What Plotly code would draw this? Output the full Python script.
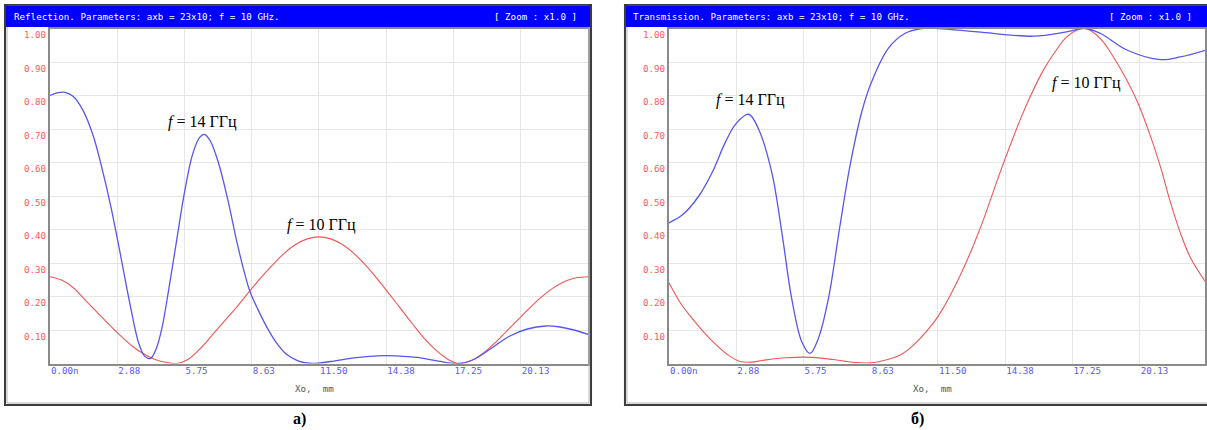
import plotly.graph_objects as go

# ---------------- data ----------------
x_ticks = [0, 2.875, 5.75, 8.625, 11.5, 14.375, 17.25, 20.125]
x_tick_labels = ["0.00n", "2.88", "5.75", "8.63", "11.50", "14.38", "17.25", "20.13"]
y_ticks = [0.1, 0.2, 0.3, 0.4, 0.5, 0.6, 0.7, 0.8, 0.9, 1.0]
y_tick_labels = ["0.10", "0.20", "0.30", "0.40", "0.50", "0.60", "0.70", "0.80", "0.90", "1.00"]

# Reflection, f = 14 GHz (blue)
refl14_x = [0, 0.3, 0.6, 1.0, 1.42, 1.85, 2.2, 2.6, 3.0, 3.4, 3.8, 4.05, 4.3, 4.55, 4.8, 5.1,
            5.4, 5.75, 6.1, 6.4, 6.6, 6.85, 7.2, 7.6, 8.0, 8.3, 8.55, 8.9, 9.3, 9.7, 10.1, 10.6,
            11.2, 12.0, 13.0, 14.0, 14.8, 15.7, 16.6, 17.5, 18.2, 18.9, 19.6, 20.4, 21.2, 21.8,
            22.4, 23.0]
refl14_y = [0.80, 0.808, 0.81, 0.797, 0.755, 0.68, 0.59, 0.47, 0.33, 0.185, 0.06, 0.022, 0.015, 0.045,
            0.11, 0.23, 0.36, 0.51, 0.625, 0.675, 0.684, 0.665, 0.60, 0.49, 0.36, 0.275, 0.215, 0.16,
            0.105, 0.06, 0.028, 0.008, 0.0, 0.006, 0.017, 0.023, 0.023, 0.018, 0.007, 0.0, 0.015,
            0.047, 0.08, 0.103, 0.112, 0.109, 0.10, 0.087]

# Reflection, f = 10 GHz (red)
refl10_x = [0, 0.5, 1.0, 1.5, 2.0, 2.5, 3.0, 3.5, 4.0, 4.5, 5.0, 5.4, 5.9, 6.5, 7.0, 7.5, 8.0,
            8.5, 9.0, 9.5, 10.0, 10.5, 11.0, 11.5, 12.0, 12.5, 13.0, 13.5, 14.0, 14.5, 15.0, 15.5,
            16.0, 16.5, 17.0, 17.5, 18.0, 18.5, 19.0, 19.5, 20.0, 20.5, 21.0, 21.5, 22.0, 22.5, 23.0]
refl10_y = [0.259, 0.249, 0.226, 0.19, 0.154, 0.118, 0.084, 0.053, 0.029, 0.012, 0.003, 0.0, 0.012,
            0.05, 0.09, 0.13, 0.17, 0.213, 0.255, 0.293, 0.328, 0.355, 0.372, 0.378, 0.372, 0.355,
            0.328, 0.293, 0.252, 0.208, 0.163, 0.118, 0.075, 0.04, 0.013, 0.0, 0.008, 0.03, 0.06,
            0.095, 0.13, 0.165, 0.198, 0.225, 0.245, 0.256, 0.259]

# Transmission, f = 14 GHz (blue)
trans14_x = [0, 0.57, 1.28, 1.85, 2.41, 2.87, 3.41, 3.83, 4.4, 4.83, 5.25, 5.68, 6.03, 6.39, 6.82,
             7.31, 7.74, 8.24, 8.66, 9.37, 10.08, 10.8, 11.5, 13.2, 15.6, 17.0, 17.8, 18.45, 19.6,
             21.0, 21.86, 22.92]
trans14_y = [0.42, 0.443, 0.50, 0.57, 0.66, 0.716, 0.744, 0.70, 0.57, 0.39, 0.194, 0.065, 0.03, 0.075, 0.194,
             0.41, 0.59, 0.75, 0.84, 0.94, 0.985, 1.0, 1.0, 0.99, 0.977, 0.99, 1.0, 0.985, 0.935,
             0.907, 0.915, 0.935]

# Transmission, f = 10 GHz (red)
trans10_x = [0, 0.5, 1.0, 1.5, 2.0, 2.5, 3.0, 3.5, 4.0, 4.5, 5.0, 5.75, 6.5, 7.0, 7.5, 8.0, 8.6,
             9.0, 9.5, 10.0, 10.5, 11.0, 11.5, 12.0, 12.5, 13.0, 13.5, 14.0, 14.5, 15.0, 15.5, 16.0,
             16.5, 17.0, 17.5, 17.75, 18.0, 18.5, 19.0, 19.5, 20.0, 20.5, 21.0, 21.4, 21.86, 22.3, 22.92]
trans10_y = [0.242, 0.18, 0.134, 0.093, 0.057, 0.027, 0.007, 0.004, 0.009, 0.014, 0.017, 0.019,
             0.016, 0.012, 0.007, 0.003, 0.002, 0.006, 0.015, 0.03, 0.058, 0.095, 0.14, 0.20, 0.27,
             0.35, 0.44, 0.54, 0.635, 0.725, 0.805, 0.875, 0.93, 0.975, 0.997, 1.0, 0.995, 0.965,
             0.915, 0.855, 0.785, 0.695, 0.59, 0.49, 0.39, 0.315, 0.245]

# ---------------- layout helpers ----------------
W, H = 1207, 430
def px(x):
    return x / W
def py(y):
    return 1 - y / H

BLUE = "rgb(86,86,240)"
RED = "rgb(240,86,86)"
GRID = "#e6e6e6"
AXLINE = "#8a8a8a"
SMALL = "DejaVu Sans Mono"

fig = go.Figure()
for xs, ys, col, w, xa, ya in [
    (refl10_x, refl10_y, RED, 1.1, "x", "y"),
    (refl14_x, refl14_y, BLUE, 1.3, "x", "y"),
    (trans10_x, trans10_y, RED, 1.1, "x2", "y2"),
    (trans14_x, trans14_y, BLUE, 1.3, "x2", "y2"),
]:
    fig.add_trace(go.Scatter(x=xs, y=ys, mode="lines", xaxis=xa, yaxis=ya,
                             line=dict(color=col, width=w, shape="spline", smoothing=1.0),
                             showlegend=False, hoverinfo="skip"))

tickfont_x = dict(family=SMALL, size=9.2, color="#5a5af5")
tickfont_y = dict(family=SMALL, size=9.2, color="#ff5a5a")

def xaxis_cfg(domain, rng, anchor):
    return dict(domain=domain, range=rng, anchor=anchor, tickmode="array",
                tickvals=x_ticks, ticktext=x_tick_labels, ticklabelposition="outside right",
                ticks="", showgrid=True, gridcolor=GRID, gridwidth=1, zeroline=False,
                showline=True, linecolor=AXLINE, linewidth=2, mirror=True,
                tickfont=tickfont_x, ticklabelstandoff=-3, fixedrange=True)

def yaxis_cfg(anchor):
    return dict(domain=[py(363.5), py(28.5)], range=[0, 1], anchor=anchor, tickmode="array",
                tickvals=y_ticks, ticktext=y_tick_labels, ticklabelposition="outside bottom",
                ticks="", showgrid=True, gridcolor=GRID, gridwidth=1, zeroline=False,
                showline=True, linecolor=AXLINE, linewidth=2, mirror=True,
                tickfont=tickfont_y, ticklabelstandoff=0, fixedrange=True)

right_max = (W - 670) / (539 / 23.0)

shapes = []
annotations = []
for (fx0, fx1, tx, title, zoom_end, xc, lab) in [
    (5, 592, 12, "Reflection. Parameters: axb = 23x10; f = 10 GHz.", 580, 315, "а)"),
    (626, 1214, 632, "Transmission. Parameters: axb = 23x10; f = 10 GHz.", 1196, 934, "б)"),
]:
    shapes.append(dict(type="rect", xref="paper", yref="paper", x0=px(fx0), x1=px(fx1),
                       y0=py(405), y1=py(5), line=dict(color="#3c3c3c", width=2)))
    shapes.append(dict(type="rect", xref="paper", yref="paper", x0=px(fx0 + 2), x1=px(fx1 - 2),
                       y0=py(403), y1=py(6), line=dict(color="#b4b4b4", width=1)))
    shapes.append(dict(type="rect", xref="paper", yref="paper", x0=px(fx0 + 1), x1=px(fx1 - 1),
                       y0=py(27), y1=py(5.5), fillcolor="#0000ff", line=dict(width=0)))
    annotations.append(dict(xref="paper", yref="paper", x=px(tx), y=py(16), text=title,
                            showarrow=False, xanchor="left", yanchor="middle",
                            font=dict(family=SMALL, size=9.2, color="white")))
    annotations.append(dict(xref="paper", yref="paper", x=px(zoom_end), y=py(16),
                            text="[ Zoom : x1.0 ]", showarrow=False, xanchor="right",
                            yanchor="middle",
                            font=dict(family=SMALL, size=9.2, color="white")))
    annotations.append(dict(xref="paper", yref="paper", x=px(xc), y=py(388), text="Xo,  mm",
                            showarrow=False, xanchor="center", yanchor="middle",
                            font=dict(family=SMALL, size=9.2, color="#555555")))
    annotations.append(dict(xref="paper", yref="paper", x=px(xc - 15), y=py(419), text="<b>" + lab + "</b>",
                            showarrow=False, xanchor="center", yanchor="middle",
                            font=dict(family="Liberation Serif", size=16, color="black")))

for (cx, cy, txt) in [
    (203, 122, "<i>f</i> = 14 ГГц"),
    (322, 225, "<i>f</i> = 10 ГГц"),
    (752, 100, "<i>f</i> = 14 ГГц"),
    (1088, 83, "<i>f</i> = 10 ГГц"),
]:
    annotations.append(dict(xref="paper", yref="paper", x=px(cx), y=py(cy), text=txt,
                            showarrow=False, xanchor="center", yanchor="middle",
                            font=dict(family="Liberation Serif", size=16, color="black")))

fig.update_layout(
    width=W, height=H, margin=dict(l=0, r=0, t=0, b=0),
    paper_bgcolor="white", plot_bgcolor="white",
    xaxis=xaxis_cfg([px(50), px(589)], [0, 23], "y"),
    yaxis=yaxis_cfg("x"),
    xaxis2=xaxis_cfg([px(670), 1.0], [0, right_max], "y2"),
    yaxis2=yaxis_cfg("x2"),
    shapes=shapes, annotations=annotations,
)

fig.write_html("out.html", config={"displayModeBar": False},
               post_script="document.body.style.margin='0px';document.body.style.overflow='hidden';")
